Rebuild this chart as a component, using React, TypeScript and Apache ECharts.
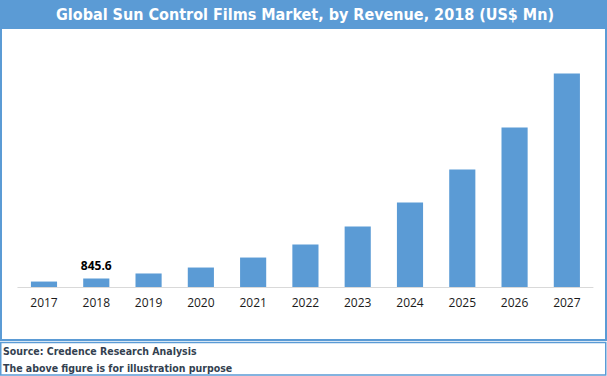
import React, { useEffect, useRef } from "react";
import * as echarts from "echarts";

const years = ["2017", "2018", "2019", "2020", "2021", "2022", "2023", "2024", "2025", "2026", "2027"];
const revenue = [540, 845.6, 1340, 1930, 2920, 4210, 6000, 8370, 11640, 15810, 21160];
const labelledYear = "2018";
const titleText = "Global Sun Control Films Market, by Revenue, 2018 (US$ Mn)";
const sourceLines = ["Source: Credence Research Analysis", "The above figure is for illustration purpose"];

export default function App() {
  const ref = useRef<HTMLDivElement>(null);
  useEffect(() => {
    document.body.style.margin = "0";
    const chart = echarts.init(ref.current!, null, { renderer: "svg" });
    const blue = "#5B9BD5";
    const condensed = "'DejaVu Sans Condensed', 'DejaVu Sans', sans-serif";
    chart.setOption({
      animation: false,
      backgroundColor: "#fff",
      grid: { left: 17.85, right: 14, top: 60, bottom: 89, containLabel: false },
      xAxis: {
        type: "category",
        data: years,
        axisLine: { lineStyle: { color: "#D9D9D9", width: 1 } },
        axisTick: { show: false },
        axisLabel: { color: "#1a1a1a", fontSize: 12, fontFamily: "Open Sans", margin: 9 },
      },
      yAxis: { type: "value", min: 0, max: 22500, show: false, splitLine: { show: false } },
      series: [
        {
          type: "bar",
          barCategoryGap: "50%",
          itemStyle: { color: blue },
          data: revenue.map((v, i) => ({
            value: v,
            label: {
              show: years[i] === labelledYear,
              position: "top",
              distance: 7,
              color: "#000",
              fontWeight: "bold",
              fontSize: 12,
              fontFamily: "Open Sans",
            },
          })),
        },
      ],
      graphic: [
        { type: "rect", shape: { x: 0, y: 0, width: 607, height: 29 }, style: { fill: blue }, silent: true },
        {
          type: "text",
          x: 305,
          y: 14.5,
          style: {
            text: titleText,
            fill: "#fff",
            font: "bold 16px " + condensed,
            textAlign: "center",
            textVerticalAlign: "middle",
          },
        },
        { type: "rect", shape: { x: 1, y: 28, width: 605, height: 312 }, style: { fill: "none", stroke: blue, lineWidth: 2 }, silent: true },
        { type: "rect", shape: { x: 0.75, y: 342.5, width: 605, height: 32.5 }, style: { fill: "none", stroke: blue, lineWidth: 1.5 }, silent: true },
        {
          type: "text",
          x: 3,
          y: 351,
          style: { text: sourceLines[0], fill: "#333F50", font: "bold 10.5px " + condensed, textVerticalAlign: "middle" },
        },
        {
          type: "text",
          x: 3,
          y: 368,
          style: { text: sourceLines[1], fill: "#333F50", font: "bold 10.5px " + condensed, textVerticalAlign: "middle" },
        },
      ],
    });
    return () => chart.dispose();
  }, []);
  return <div ref={ref} style={{ width: 607, height: 376 }} />;
}
